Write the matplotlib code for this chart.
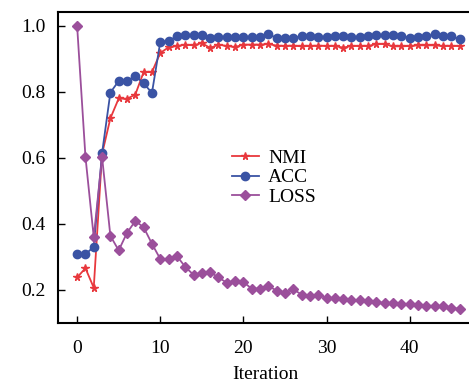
import matplotlib
matplotlib.use("Agg")
import matplotlib.pyplot as plt

plt.rcParams["font.family"] = "Liberation Serif"

iterations = list(range(47))

nmi = [0.238, 0.266, 0.207, 0.612, 0.720, 0.780, 0.779, 0.792, 0.860, 0.860,
       0.918, 0.935, 0.939, 0.943, 0.941, 0.948, 0.933, 0.943, 0.939, 0.936,
       0.943, 0.943, 0.943, 0.945, 0.940, 0.939, 0.940, 0.938, 0.939, 0.940,
       0.939, 0.939, 0.934, 0.939, 0.939, 0.939, 0.945, 0.945, 0.938, 0.938,
       0.939, 0.941, 0.941, 0.941, 0.939, 0.939, 0.939]

acc = [0.308, 0.308, 0.331, 0.614, 0.798, 0.833, 0.833, 0.848, 0.826, 0.797,
       0.951, 0.955, 0.968, 0.973, 0.971, 0.972, 0.964, 0.966, 0.966, 0.966,
       0.966, 0.966, 0.966, 0.974, 0.964, 0.962, 0.964, 0.968, 0.968, 0.966,
       0.966, 0.968, 0.968, 0.966, 0.966, 0.968, 0.972, 0.972, 0.972, 0.970,
       0.963, 0.966, 0.968, 0.974, 0.968, 0.968, 0.960]

loss = [1.000, 0.604, 0.360, 0.603, 0.364, 0.320, 0.373, 0.409, 0.390, 0.340,
        0.294, 0.294, 0.303, 0.270, 0.246, 0.252, 0.254, 0.238, 0.222, 0.228,
        0.224, 0.204, 0.204, 0.212, 0.198, 0.192, 0.202, 0.186, 0.182, 0.184,
        0.176, 0.176, 0.174, 0.170, 0.170, 0.166, 0.164, 0.160, 0.160, 0.158,
        0.158, 0.154, 0.152, 0.152, 0.150, 0.145, 0.143]

fig = plt.figure(figsize=(4.69, 3.85), dpi=100)
ax = fig.add_axes([58 / 469, 1 - 323 / 385, 1 - 58 / 469 + 0.01, (323 - 12) / 385])

ax.plot(iterations, nmi, color="#e8383d", marker="*", markersize=5.5, linewidth=1.3, label="NMI")
ax.plot(iterations, acc, color="#3a53a4", marker="o", markersize=6, linewidth=1.3, label="ACC")
ax.plot(iterations, loss, color="#9b4f9b", marker="D", markersize=5, linewidth=1.3, label="LOSS")

ax.set_xlim(-2.3, 47.7)
ax.set_ylim(0.1, 1.042)
ax.set_xticks([0, 10, 20, 30, 40])
ax.set_yticks([0.2, 0.4, 0.6, 0.8, 1.0])
ax.set_yticklabels(["0.2", "0.4", "0.6", "0.8", "1.0"])
ax.tick_params(direction="in", length=5, width=1, labelsize=14)
ax.tick_params(axis="x", pad=12)
ax.tick_params(axis="y", pad=9)
ax.spines["right"].set_visible(False)
for s in ["left", "top", "bottom"]:
    ax.spines[s].set_linewidth(1.5)

ax.set_xlabel("Iteration", fontsize=14, labelpad=7)

ax.legend(loc="upper left", bbox_to_anchor=(0.396, 0.59), frameon=False, fontsize=14,
          handlelength=1.35, handletextpad=0.5, labelspacing=0.1, borderpad=0)

fig.savefig("out.png", dpi=100)
plt.close(fig)
